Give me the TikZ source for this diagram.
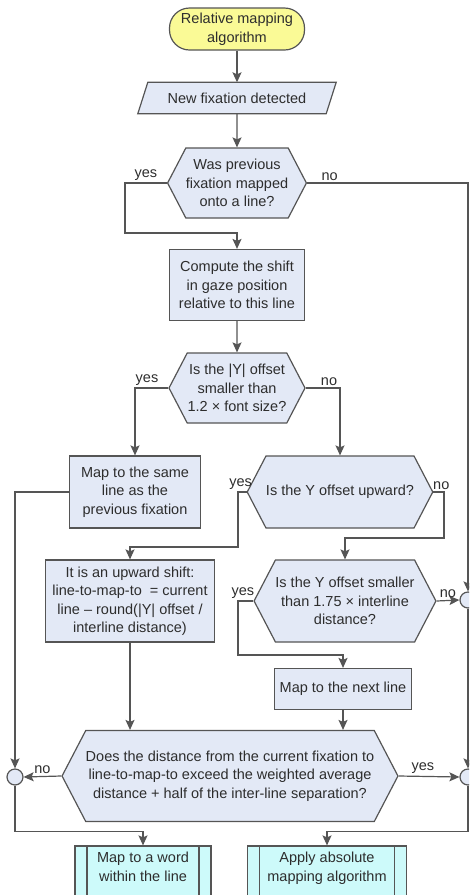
\documentclass[tikz,border=0pt]{standalone}
\usepackage{fontspec}
\setmainfont{Liberation Sans}
\usetikzlibrary{shapes.symbols,arrows.meta,backgrounds}
\definecolor{boxblue}{RGB}{227,233,246}
\definecolor{termyellow}{RGB}{250,250,150}
\definecolor{subcyan}{RGB}{205,250,250}
\definecolor{linegray}{RGB}{85,85,85}
\definecolor{textgray}{RGB}{45,45,45}

\begin{document}
\begin{tikzpicture}[
		x=1pt,y=-1pt,
		font=\fontsize{14.5}{18.5}\selectfont,
		outline/.style={draw=linegray,line width=1.2pt,fill=boxblue},
		block/.style={outline,text=textgray,align=center,inner sep=0pt},
		term/.style={block,fill=termyellow,rounded corners=20pt,minimum width=135pt,minimum height=42pt},
		iobox/.style={text=textgray,inner sep=0pt,minimum width=188pt,minimum height=31pt},
		decision/.style={block,signal,signal to=west and east,signal pointer angle=125},
		subproc/.style={block,fill=subcyan,
			path picture={\draw[linegray,line width=1.2pt]
				([xshift=12pt]path picture bounding box.north west) -- ([xshift=12pt]path picture bounding box.south west)
				([xshift=-12pt]path picture bounding box.north east) -- ([xshift=-12pt]path picture bounding box.south east);}},
		joint/.style={circle,draw=linegray,line width=1.2pt,fill=boxblue,minimum size=16pt,inner sep=0pt},
		arr/.style={draw=linegray,line width=1.2pt,-{Stealth[length=10pt,width=9pt,inset=2pt]}},
		tag/.style={above,inner sep=2pt,text=textgray}
		]
		\useasboundingbox (0,0) rectangle (469,895);
		\clip (0,0) rectangle (469,895);

		\path (237,29) node[term] (start) {Relative mapping\\algorithm}
		 ++(0,69) node[iobox] (new fix) {New fixation detected}
		 ++(0,85) node[decision,minimum width=136pt,minimum height=70pt] (was mapped) {Was previous\\fixation mapped\\onto a line?}
		 ++(0,102) node[block,minimum width=135pt,minimum height=71pt] (compute shift) {Compute the shift\\in gaze position\\relative to this line}
		 ++(0,103) node[decision,minimum width=136pt,minimum height=70pt] (small offset) {Is the |Y| offset\\smaller than\\1.2 × font size?};

		\path (135,492) node[block,minimum width=131pt,minimum height=72pt] (same line) {Map to the same\\line as the\\previous fixation}
		 ++(205,0) node[decision,minimum width=157pt,minimum height=72pt] (upward) {Is the Y offset upward?};
		\path (130,601) node[block,minimum width=169pt,minimum height=82pt] (upward shift) {It is an upward shift:\\line-to-map-to~~= current\\line – round(|Y| offset /\\interline distance)}
		 ++(215,0) node[decision,minimum width=174pt,minimum height=82pt] (small down) {Is the Y offset smaller\\than 1.75 × interline\\distance?};
		\path (343,689) node[block,minimum width=137pt,minimum height=41pt] (next line) {Map to the next line};
		\path (230,776) node[decision,minimum width=330pt,minimum height=91pt] (too far) {Does the distance from the current fixation to\\line-to-map-to exceed the weighted average\\distance + half of the inter-line separation?};

		\path (15,777) node[joint] (join left) {}
		 (468,600) node[joint] (join up) {}
		 (468,777) node[joint] (join right) {};

		\path (143,876) node[subproc,minimum width=136pt,minimum height=60pt] (map word) {Map to a word\\within the line\\~}
		 ++(184,0) node[subproc,minimum width=159pt,minimum height=60pt] (absolute) {Apply absolute\\mapping algorithm\\~};

		\begin{scope}[on background layer]
			\draw[outline] ([xshift=5pt]new fix.north west) -- ([xshift=5pt]new fix.north east)
			 -- ([xshift=-5pt]new fix.south east) -- ([xshift=-5pt]new fix.south west) -- cycle;
		\end{scope}

		\coordinate (bend yes1) at (125,233);
		\coordinate (bend yes3) at (238,547);
		\coordinate (bend no3) at (444,538);
		\coordinate (bend yes4) at (238,655);

		\draw[arr] (start) -- (new fix);
		\draw[arr] (new fix) -- (was mapped);
		\draw[arr] (was mapped.west) -| node[tag,pos=0.25] {yes} (bend yes1) -| (compute shift.north);
		\draw[arr] (was mapped.east) -| node[tag,pos=0.07] {no} (join up.north);
		\draw[arr] (compute shift) -- (small offset);
		\draw[arr] (small offset.west) -| node[tag,pos=0.32] {yes} (same line.north);
		\draw[arr] (small offset.east) -| node[tag,pos=0.34] {no} (upward.north);
		\draw[arr] (same line.west) -| (join left.north);
		\draw[arr] (upward.west) -| node[tag,pos=0.35] {yes} (bend yes3) -| (upward shift.north);
		\draw[arr] (upward.east) -| node[tag,pos=0.37] {no} (bend no3) -| (small down.north);
		\draw[arr] (small down.west) -| node[tag,pos=0.34] {yes} (bend yes4) -| (next line.north);
		\draw[arr] (small down.east) -- node[tag] {no} (join up.west);
		\draw[arr] (upward shift) -- (upward shift |- too far.north);
		\draw[arr] (next line) -- (next line |- too far.north);
		\draw[arr] (too far.west) -- node[tag] {no} (join left.east);
		\draw[arr] (too far.east) -- node[tag,pos=0.4] {yes} (join right.west);
		\draw[arr] (join up) -- (join right);
		\draw[arr] (join left.south) |- ([yshift=14pt]map word.north) -- (map word.north);
		\draw[arr] (join right.south) |- ([yshift=14pt]absolute.north) -- (absolute.north);

	\end{tikzpicture}
\end{document}
